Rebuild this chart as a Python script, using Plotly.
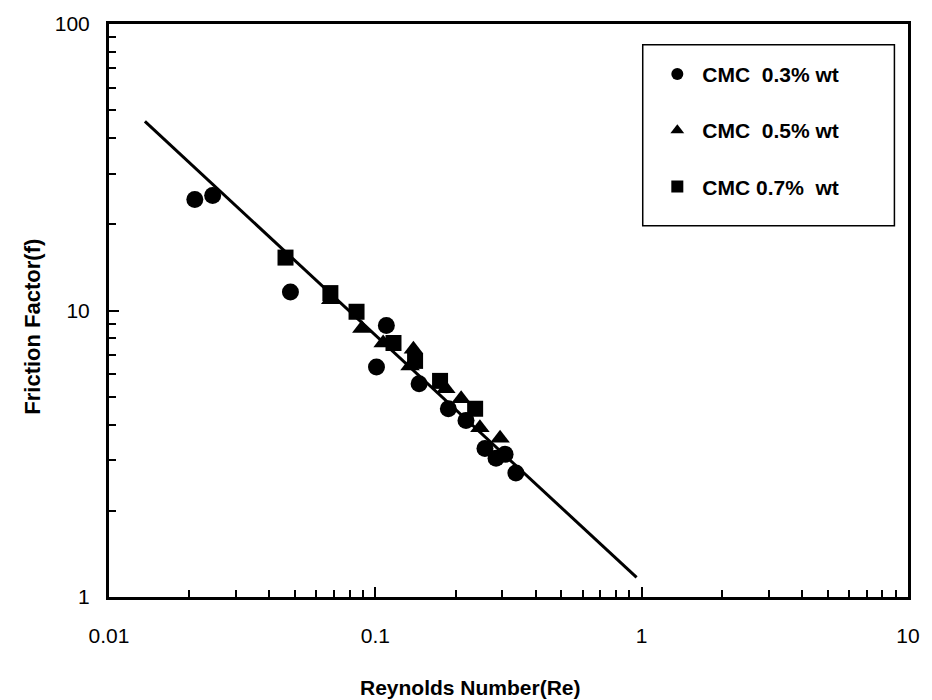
import plotly.graph_objects as go

# ---- data ----
re_03 = [0.021, 0.0245, 0.048, 0.101, 0.110, 0.146, 0.188, 0.219, 0.258, 0.284, 0.307, 0.337]
f_03 = [24.4, 25.2, 11.6, 6.35, 8.87, 5.55, 4.54, 4.13, 3.30, 3.05, 3.15, 2.71]

re_05 = [0.068, 0.089, 0.107, 0.135, 0.139, 0.184, 0.210, 0.247, 0.294]
f_05 = [10.9, 8.66, 7.7, 6.4, 7.33, 5.33, 4.92, 3.9, 3.58]

re_07 = [0.046, 0.0678, 0.085, 0.117, 0.141, 0.175, 0.237]
f_07 = [15.3, 11.5, 9.9, 7.7, 6.67, 5.68, 4.54]

fit_re = [0.01364, 0.957]
fit_f = [45.7, 1.17]

names = ["CMC  0.3% wt", "CMC  0.5% wt", "CMC 0.7%  wt"]
x_ticks = [0.01, 0.1, 1, 10]
x_tick_text = ["0.01", "0.1", "1", "10"]
y_ticks = [1, 10, 100]
y_tick_text = ["1", "10", "100"]

FONT = "Arial, Liberation Sans, sans-serif"

fig = go.Figure()
fig.add_trace(go.Scatter(x=fit_re, y=fit_f, mode="lines",
                         line=dict(color="black", width=3), showlegend=False))
fig.add_trace(go.Scatter(x=re_03, y=f_03, mode="markers", name=names[0], legendgroup="a",
                         marker=dict(symbol="circle", size=17, color="black")))
fig.add_trace(go.Scatter(x=re_05, y=f_05, mode="markers", name=names[1], legendgroup="b",
                         marker=dict(symbol="triangle-up", size=17, color="black")))
fig.add_trace(go.Scatter(x=re_07, y=f_07, mode="markers", name=names[2], legendgroup="c",
                         marker=dict(symbol="square", size=16, color="black")))

axis_common = dict(
    type="log", showgrid=False, zeroline=False,
    showline=True, linecolor="black", linewidth=3, mirror=True,
    ticks="inside", ticklen=10, tickwidth=2, tickcolor="black",
    minor=dict(ticks="inside", ticklen=7, tickwidth=2, tickcolor="black", dtick="D1", showgrid=False),
    tickfont=dict(family=FONT, size=21, color="black"),
)

fig.update_xaxes(range=[-2, 1], tickvals=x_ticks, ticktext=x_tick_text,
                 ticklabelstandoff=18, **axis_common)
fig.update_yaxes(range=[0, 2], tickvals=y_ticks, ticktext=y_tick_text,
                 ticklabelstandoff=12, **axis_common)

fig.update_layout(
    width=932, height=700,
    margin=dict(l=109, r=21, t=21, b=103),
    paper_bgcolor="white", plot_bgcolor="white",
    font=dict(family=FONT, color="black"),
    legend=dict(
        x=0.680, y=0.948, xanchor="left", yanchor="top",
        bgcolor="rgba(0,0,0,0)", borderwidth=0,
        font=dict(family=FONT, size=21, color="black", weight="bold"),
        itemsizing="constant", itemwidth=40, tracegroupgap=26,
    ),
    shapes=[dict(type="rect", xref="paper", yref="paper",
                 x0=0.668, x1=0.983, y0=0.648, y1=0.964,
                 line=dict(color="black", width=1.5), fillcolor="rgba(0,0,0,0)")],
    annotations=[
        dict(text="Reynolds Number(Re)", xref="paper", yref="paper",
             x=(472 - 109) / 802, y=(597 - 688) / 576, xanchor="center", yanchor="middle",
             showarrow=False, font=dict(family=FONT, size=21, color="black", weight="bold")),
        dict(text="Friction Factor(f)", xref="paper", yref="paper", textangle=-90,
             x=(32 - 109) / 802, y=(597 - 325) / 576, xanchor="center", yanchor="middle",
             showarrow=False, font=dict(family=FONT, size=22, color="black", weight="bold")),
    ],
)

fig.write_html("out.html")
